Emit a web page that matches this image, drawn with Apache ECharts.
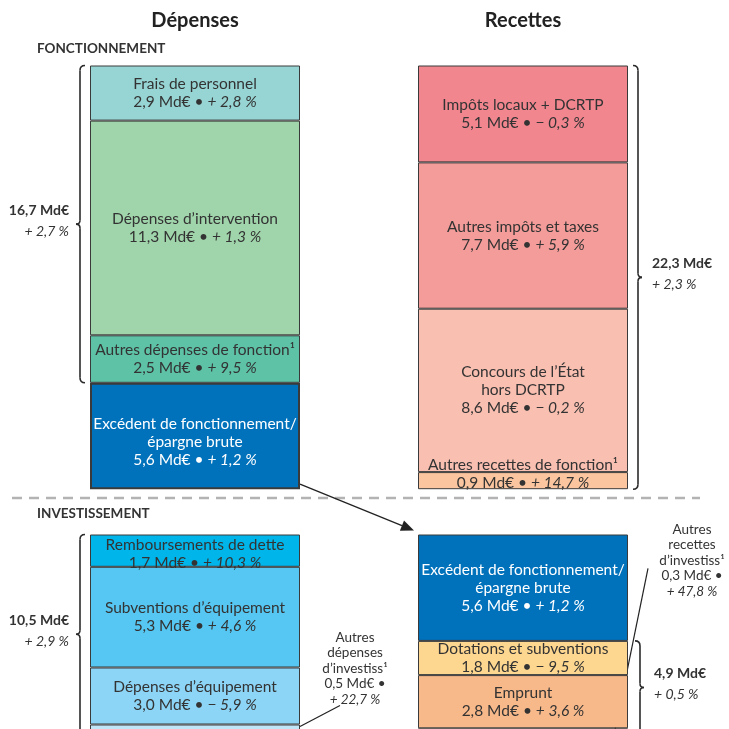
<!DOCTYPE html>
<html>
<head>
<meta charset="utf-8">
<script src="https://cdn.jsdelivr.net/npm/echarts@6/dist/echarts.min.js"></script>
<style>
  html, body { margin: 0; padding: 0; background: #fff; }
  #chart { width: 729px; height: 729px; }
</style>
</head>
<body>
<div id="chart"></div>
<script>
// ---- Data (Md€ and % change) ----
const columns = ['Dépenses', 'Recettes'];

// Fonctionnement
const fonctDepNames = ['Frais de personnel', 'Dépenses d’intervention', 'Autres dépenses de fonction¹', 'Excédent de fonctionnement/\népargne brute'];
const fonctDepValues = [2.9, 11.3, 2.5, 5.6];
const fonctDepChanges = [2.8, 1.3, 9.5, 1.2];

const fonctRecNames = ['Impôts locaux + DCRTP', 'Autres impôts et taxes', 'Concours de l’État\nhors DCRTP', 'Autres recettes de fonction¹'];
const fonctRecValues = [5.1, 7.7, 8.6, 0.9];
const fonctRecChanges = [-0.3, 5.9, -0.2, 14.7];

// Investissement
const invDepNames = ['Remboursements de dette', 'Subventions d’équipement', 'Dépenses d’équipement', 'Autres\ndépenses\nd’investiss¹'];
const invDepValues = [1.7, 5.3, 3.0, 0.5];
const invDepChanges = [10.3, 4.6, -5.9, 22.7];

const invRecNames = ['Excédent de fonctionnement/\népargne brute', 'Dotations et subventions', 'Emprunt', 'Autres\nrecettes\nd’investiss¹'];
const invRecValues = [5.6, 1.8, 2.8, 0.3];
const invRecChanges = [1.2, -9.5, 3.6, 47.8];

// Changes printed beside the braces
const fonctDepTotalChange = 2.7;
const fonctRecTotalChange = 2.3;
const invDepTotalChange = 2.9;
const invRecTotalChange = 0.5;

// ---- Styles ----
const FONT = 'Lato';
const TEXT = '#333';
const EXCEDENT = '#0072BC';
const fonctDepColors = ['#97D5D4', '#A0D5AB', '#5DC2A6', EXCEDENT];
const fonctRecColors = ['#F1868F', '#F49C99', '#F9BFB1', '#FBC69F'];
const invDepColors = ['#00B5EA', '#55C7F2', '#8DD5F6', '#C0E6F8'];
const invRecColors = [EXCEDENT, '#FDD690', '#F8B98A', '#F39C6B'];
const PX_PER_MD = 19;
const BAR_W = 210;
const FONCT_TOP = 65.5;
const INV_TOP = 534.5;

const sum = a => a.reduce((s, v) => s + v, 0);
const fmtNum = v => v.toFixed(1).replace('.', ',');
const fmtChg = c => (c < 0 ? '− ' : '+ ') + fmtNum(Math.abs(c)) + ' %';

const el = document.getElementById('chart');
const fonctMax = Math.max(sum(fonctDepValues), sum(fonctRecValues));
// The investment block runs past the bottom edge: the axis spans only the visible part,
// bars keep the same Md€ scale and continue below it.
const invVisible = (el.clientHeight - INV_TOP) / PX_PER_MD;

function richStyle(color, size, lh) {
  return { p: { fontStyle: 'italic', color: color, fontFamily: FONT, fontSize: size, lineHeight: lh } };
}

function segmentSeries(group, colIdx, names, values, changes, colors, opts) {
  return names.map((name, i) => {
    const o = opts[i] || {};
    const data = colIdx === 0 ? [values[i], '-'] : ['-', values[i]];
    const valText = fmtNum(values[i]) + ' Md€ •';
    const chg = '{p|' + fmtChg(changes[i]) + '}';
    const text = o.callout ? name + '\n' + valText + '\n' + chg : name + '\n' + valText + ' ' + chg;
    const txtColor = colors[i] === EXCEDENT ? '#fff' : TEXT;
    const size = o.callout ? 13.5 : 15.5;
    const lh = o.callout ? 15.5 : 18;
    const label = {
      show: true, position: 'inside', formatter: text, color: txtColor,
      fontFamily: FONT, fontSize: size, lineHeight: lh, rich: richStyle(txtColor, size, lh)
    };
    if (o.callout) {
      label.position = 'right';
      label.align = 'center';
      label.verticalAlign = 'middle';
      label.offset = o.callout;
    }
    if (o.offset) label.offset = o.offset;
    return {
      type: 'bar', name: name, xAxisIndex: group, yAxisIndex: group, stack: 'g' + group,
      barWidth: BAR_W, data: data, silent: true, clip: false,
      itemStyle: { color: colors[i], borderColor: '#3a3a3a', borderWidth: o.border || 1 },
      label: label,
      emphasis: { disabled: true }
    };
  });
}

const series = [].concat(
  segmentSeries(0, 0, fonctDepNames, fonctDepValues, fonctDepChanges, fonctDepColors, { 3: { border: 2, offset: [0, 6] } }),
  segmentSeries(0, 1, fonctRecNames, fonctRecValues, fonctRecChanges, fonctRecColors, { 3: { offset: [0, -7] } }),
  segmentSeries(1, 0, invDepNames, invDepValues, invDepChanges, invDepColors, { 0: { offset: [0, 3] }, 3: { callout: [50, -61] } }),
  segmentSeries(1, 1, invRecNames, invRecValues, invRecChanges, invRecColors, { 3: { callout: [59, -171] } })
);

const chart = echarts.init(el, null, { renderer: 'canvas' });

const sectionTitle = { fontSize: 13.5, fontWeight: 'bold', color: TEXT, fontFamily: FONT };

chart.setOption({
  animation: false,
  backgroundColor: '#fff',
  title: [
    { text: 'FONCTIONNEMENT', left: 37, top: 42, padding: 0, textStyle: sectionTitle },
    { text: 'INVESTISSEMENT', left: 37, top: 507, padding: 0, textStyle: sectionTitle }
  ],
  grid: [
    { left: 31, width: 656, top: FONCT_TOP, height: fonctMax * PX_PER_MD },
    { left: 31, width: 656, top: INV_TOP, height: invVisible * PX_PER_MD }
  ],
  xAxis: [
    {
      gridIndex: 0, type: 'category', data: columns, position: 'top',
      axisLine: { show: false }, axisTick: { show: false },
      axisLabel: { fontSize: 20, fontWeight: 'bold', color: '#222', fontFamily: FONT, margin: 35 }
    },
    { gridIndex: 1, type: 'category', data: columns, show: false }
  ],
  yAxis: [
    { gridIndex: 0, type: 'value', inverse: true, min: 0, max: fonctMax, show: false },
    { gridIndex: 1, type: 'value', inverse: true, min: 0, max: invVisible, show: false }
  ],
  series: series
});

// ---- Annotations placed from the axes' own scales ----
function px(g, col, val) {
  return chart.convertToPixel({ xAxisIndex: g, yAxisIndex: g }, [col, val]);
}
const stroke = { stroke: '#2b2b2b', lineWidth: 1.6, fill: 'none' };
const graphics = [];

function brace(x0, y1, y2, dir) {
  const h = 5, t = 4, ym = (y1 + y2) / 2;
  graphics.push(
    { type: 'bezierCurve', shape: { x1: x0 - dir * h, y1: y1, cpx1: x0, cpy1: y1, x2: x0, y2: y1 + h }, style: stroke, silent: true },
    { type: 'line', shape: { x1: x0, y1: y1 + h, x2: x0, y2: ym - t }, style: stroke, silent: true },
    { type: 'bezierCurve', shape: { x1: x0, y1: ym - t, cpx1: x0, cpy1: ym, x2: x0 + dir * t, y2: ym }, style: stroke, silent: true },
    { type: 'bezierCurve', shape: { x1: x0 + dir * t, y1: ym, cpx1: x0, cpy1: ym, x2: x0, y2: ym + t }, style: stroke, silent: true },
    { type: 'line', shape: { x1: x0, y1: ym + t, x2: x0, y2: y2 - h }, style: stroke, silent: true },
    { type: 'bezierCurve', shape: { x1: x0, y1: y2 - h, cpx1: x0, cpy1: y2, x2: x0 - dir * h, y2: y2 }, style: stroke, silent: true }
  );
  return ym;
}

function braceLabel(x, ym, total, change, align) {
  graphics.push({
    type: 'text', x: x, y: ym - 3, silent: true,
    style: {
      text: '{b|' + fmtNum(total) + ' Md€}\n{i|' + fmtChg(change) + '}',
      align: align, verticalAlign: 'middle',
      rich: {
        b: { fontFamily: FONT, fontSize: 14, fontWeight: 'bold', fill: TEXT, lineHeight: 21, align: align },
        i: { fontFamily: FONT, fontSize: 14, fontStyle: 'italic', fill: TEXT, lineHeight: 21, align: align }
      }
    }
  });
}

const leftX = px(0, columns[0], 0)[0];
const rightX = px(0, columns[1], 0)[0];
const half = BAR_W / 2;

// Fonctionnement, dépenses: brace over everything except the surplus
{
  const depSum = sum(fonctDepValues.slice(0, 3));
  const y1 = px(0, columns[0], 0)[1];
  const y2 = px(0, columns[0], depSum)[1];
  const ym = brace(leftX - half - 10, y1, y2, -1);
  braceLabel(leftX - half - 21, ym, depSum, fonctDepTotalChange, 'right');
}
// Fonctionnement, recettes
{
  const recSum = sum(fonctRecValues);
  const y1 = px(0, columns[1], 0)[1];
  const y2 = px(0, columns[1], recSum)[1];
  const ym = brace(rightX + half + 10, y1, y2, 1);
  braceLabel(rightX + half + 24, ym, recSum, fonctRecTotalChange, 'left');
}
// Investissement, dépenses
{
  const depSum = sum(invDepValues);
  const y1 = px(1, columns[0], 0)[1];
  const y2 = px(1, columns[0], depSum)[1];
  const ym = brace(leftX - half - 10, y1, y2, -1);
  braceLabel(leftX - half - 21, ym, depSum, invDepTotalChange, 'right');
}
// Investissement, recettes hors excédent
{
  const recSum = sum(invRecValues.slice(1));
  const y1 = px(1, columns[1], invRecValues[0])[1];
  const y2 = px(1, columns[1], invRecValues[0] + recSum)[1];
  const ym = brace(rightX + half + 12, y1, y2, 1);
  braceLabel(rightX + half + 26, ym, recSum, invRecTotalChange, 'left');
}

// Separator between the two sections
graphics.push({
  type: 'line', silent: true,
  shape: { x1: 12, y1: 498, x2: 700, y2: 498 },
  style: { stroke: '#b3b3b3', lineWidth: 2.5, lineDash: [10, 7] }
});

// Arrow: surplus of fonctionnement feeds investissement
{
  const start = [leftX + half, px(0, columns[0], sum(fonctDepValues))[1] - 5];
  const tip = [rightX - half - 4, px(1, columns[1], 0)[1] - 4];
  const ang = Math.atan2(tip[1] - start[1], tip[0] - start[0]);
  const L = 13, W = 5.5;
  const bx = tip[0] - L * Math.cos(ang), by = tip[1] - L * Math.sin(ang);
  graphics.push(
    { type: 'line', silent: true, shape: { x1: start[0], y1: start[1], x2: bx, y2: by }, style: { stroke: '#222', lineWidth: 1.3 } },
    { type: 'polygon', silent: true, shape: { points: [tip, [bx - W * Math.sin(ang), by + W * Math.cos(ang)], [bx + W * Math.sin(ang), by - W * Math.cos(ang)]] }, style: { fill: '#222' } }
  );
}

// Leader lines for the two small investment segments
{
  const segTop = px(1, columns[0], sum(invDepValues.slice(0, 3)))[1];
  graphics.push({ type: 'line', silent: true, shape: { x1: leftX + half + 40, y1: segTop - 19, x2: leftX + half, y2: segTop + 2 }, style: { stroke: '#222', lineWidth: 1.2 } });
}
{
  const segTop = px(1, columns[1], sum(invRecValues.slice(0, 3)))[1];
  graphics.push({ type: 'line', silent: true, shape: { x1: rightX + half + 20, y1: segTop - 160, x2: rightX + half - 13, y2: segTop + 2 }, style: { stroke: '#222', lineWidth: 1.2 } });
}

chart.setOption({ graphic: { elements: graphics } });
</script>
</body>
</html>
